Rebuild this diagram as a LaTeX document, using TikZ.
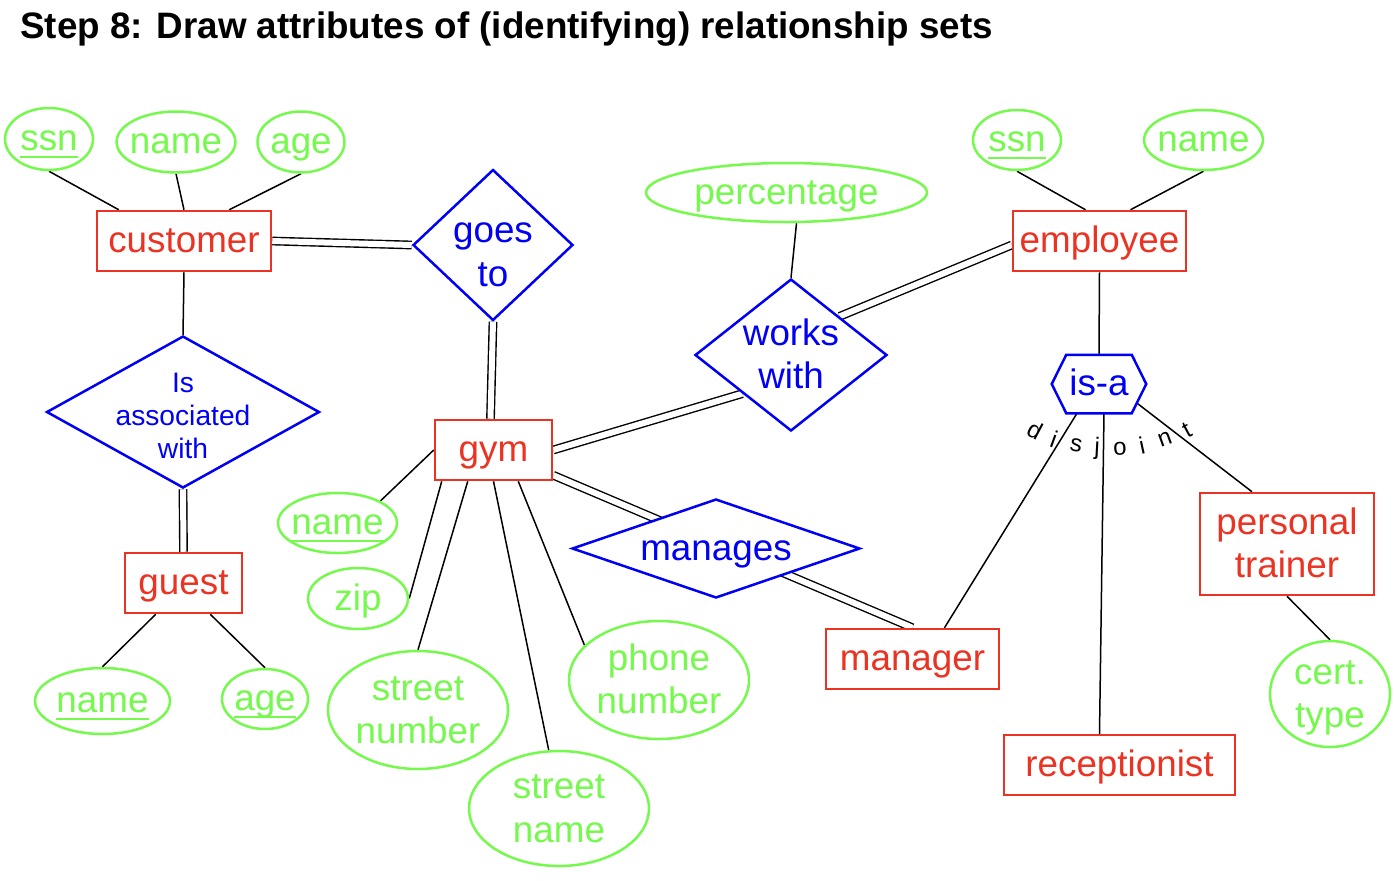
\documentclass[tikz,border=0pt]{standalone}
\usepackage{fontspec}
\setmainfont{Liberation Sans}
\usepackage{tikz}
\usetikzlibrary{positioning, shapes.geometric, calc, backgrounds}
\definecolor{erred}{RGB}{234, 51, 35}
\definecolor{erblue}{RGB}{0, 0, 245}
\definecolor{ergreen}{RGB}{117, 249, 77}
\newcommand{\erfont}{\fontsize{18.4pt}{21.75pt}\selectfont}
% key attributes: underline at a fixed depth
\newcommand{\keyattr}[1]{\setbox0\hbox{#1}\rlap{\rule[-3.3pt]{\wd0}{1pt}}\box0}
\tikzset{
    ernode/.style={draw, line width=1.25pt, inner sep=0pt, font=\erfont, text height=13.4pt, text depth=1.5pt},
    entnode/.style={ernode, rectangle, draw=erred, text=erred, fill=white},
    attrnode/.style={ernode, ellipse, draw=ergreen, text=ergreen, fill=white, inner sep=-2pt},
    relnode/.style={ernode, diamond, draw=erblue, text=erblue, fill=white, inner sep=-2pt},
    twoline/.style={align=center, text height=35.15pt},
    conn/.style={draw=black, line width=0.75pt},
    dconn/.style={draw=black, line width=0.7pt, double=white, double distance=3pt}
}

\begin{document}
\begin{tikzpicture}[x=0.5pt, y=-0.5pt]
\useasboundingbox (0,0) rectangle (1394,880);
\node[anchor=base west, font=\erfont\bfseries, inner sep=0pt] (title) at (20,38) {Step 8: Draw attributes of (identifying) relationship sets};

% customer and guest
\node[entnode, minimum width=87pt, minimum height=30pt] (customer) at (184,241) {customer};
\node[attrnode, minimum width=44pt, minimum height=31pt] (cssn) at (49,139) {\keyattr{ssn}};
\node[attrnode, minimum width=59pt, minimum height=30.5pt] (cname) at (176,142) {name};
\node[attrnode, minimum width=43.5pt, minimum height=30.5pt] (cage) at (301,142) {age};
\node[relnode, minimum width=80pt, minimum height=75.5pt, aspect=1.06, twoline, text height=42.5pt] (goesto) at (493,245) {goes\\to};
\node[relnode, minimum width=136.5pt, minimum height=76pt, aspect=1.8, inner sep=-8pt,
      font=\fontsize{14.1pt}{16.5pt}\selectfont, align=center, text height=47.5pt] (assoc) at (183,412) {Is\\associated\\with};
\node[entnode, minimum width=58.5pt, minimum height=30pt] (guest) at (183.5,583) {guest};
\node[attrnode, minimum width=67.5pt, minimum height=33pt] (gname) at (102.5,701) {\keyattr{name}};
\node[attrnode, minimum width=43pt, minimum height=30pt] (gage) at (265,699) {\keyattr{age}};

% gym
\node[entnode, minimum width=58.5pt, minimum height=30pt] (gym) at (493.5,450) {gym};
\node[attrnode, minimum width=59.5pt, minimum height=30pt] (gymname) at (337.5,523) {\keyattr{name}};
\node[attrnode, minimum width=50pt, minimum height=30.5pt] (zip) at (358,598.5) {zip};
\node[attrnode, minimum width=90pt, minimum height=59pt, twoline] (stnum) at (418,710) {street\\number};
\node[attrnode, minimum width=90pt, minimum height=57.5pt, twoline] (stname) at (559,808.5) {street\\name};
\node[attrnode, minimum width=90pt, minimum height=59pt, twoline] (phone) at (659,680) {phone\\number};
\node[relnode, minimum width=144pt, minimum height=49.5pt, aspect=2.9] (manages) at (716,548.5) {manages};

% employee side
\node[relnode, minimum width=96pt, minimum height=76pt, aspect=1.26, twoline] (worksw) at (791,355) {works\\with};
\node[attrnode, minimum width=140.5pt, minimum height=29.5pt] (pct) at (786.5,192.5) {percentage};
\node[entnode, minimum width=86.5pt, minimum height=30pt] (employee) at (1099.5,241) {employee};
\node[attrnode, minimum width=44pt, minimum height=30pt] (essn) at (1017,140) {\keyattr{ssn}};
\node[attrnode, minimum width=58.5pt, minimum height=30pt] (ename) at (1203.5,140) {name};
\node[ernode, draw=none, text=erblue, minimum width=46pt, minimum height=28pt] (isa) at (1099,384) {is-a};
\node[entnode, minimum width=86.5pt, minimum height=30pt] (manager) at (912.5,659) {manager};
\node[entnode, minimum width=115.5pt, minimum height=30pt] (recep) at (1119.5,765) {receptionist};
\node[entnode, minimum width=87pt, minimum height=51pt, twoline] (ptrainer) at (1287,544) {personal\\trainer};
\node[attrnode, minimum width=60pt, minimum height=53pt, twoline] (cert) at (1330,694) {cert.\\type};

% disjoint
\foreach \ch/\px/\py/\rot [count=\k] in {d/1035/430/-28, i/1054/439/-20, s/1076/445/-10, j/1097/448/-3,
        o/1120/449/3, i/1142/445/12, n/1165/439/20, t/1187/430/28}
    \node[font=\fontsize{12pt}{14pt}\selectfont, rotate=\rot, inner sep=0pt] (dj\k) at (\px,\py) {\ch};

\begin{scope}[on background layer]
    \draw[conn] (cssn.south) -- ([xshift=11.5pt]customer.north west);
    \draw[conn] (cname.south) -- (customer.north);
    \draw[conn] (cage.south) -- ([xshift=-21.5pt]customer.north east);
    \draw[dconn] (customer.east) -- (goesto.west);
    \draw[conn] (customer.south) -- (assoc.north);
    \draw[dconn] (assoc.south) -- (guest.north);
    \draw[conn] ([xshift=16pt]guest.south west) -- (gname.north);
    \draw[conn] ([xshift=-16.5pt]guest.south east) -- (gage.north);
    \draw[dconn] (goesto.south) -- ([xshift=-1.5pt]gym.north);
    \draw[conn] (gym.west) -- (gymname.north east);
    \draw[conn] ([xshift=4pt]gym.south west) -- (zip.east);
    \draw[conn] ([xshift=17pt]gym.south west) -- (stnum.north);
    \draw[conn] (gym.south) -- (stname.100);
    \draw[conn] ([xshift=-17.5pt]gym.south east) -- (phone.155);
    \draw[dconn] (gym.east) -- (worksw.south west);
    \draw[dconn] ([yshift=3pt]gym.south east) -- (manager.north);
    \draw[conn] ([xshift=5pt]pct.south) -- (worksw.north);
    \draw[dconn] (worksw.north east) -- ([yshift=-2pt]employee.west);
    \draw[conn] (essn.south) -- ([xshift=-7pt]employee.north);
    \draw[conn] (ename.south) -- ([xshift=15.5pt]employee.north);
    \draw[conn] (employee.south) -- (isa.north);
    \draw[conn] ([xshift=-11pt]isa.south) -- ([xshift=16pt]manager.north);
    \draw[conn] ([xshift=2.5pt]isa.south) -- ([xshift=-10pt]recep.north);
    \draw[conn] ($([xshift=-7.25pt]isa.south east)!0.35!(isa.east)$) -- ([xshift=-17.5pt]ptrainer.north);
    \draw[conn] (ptrainer.south) -- (cert.north);
    % is-a box
    \draw[line width=1.25pt, draw=erblue, fill=white] (isa.west) -- ([xshift=7.25pt]isa.north west)
        -- ([xshift=-7.25pt]isa.north east) -- (isa.east) -- ([xshift=-7.25pt]isa.south east)
        -- ([xshift=7.25pt]isa.south west) -- cycle;
\end{scope}
\end{tikzpicture}
\end{document}
